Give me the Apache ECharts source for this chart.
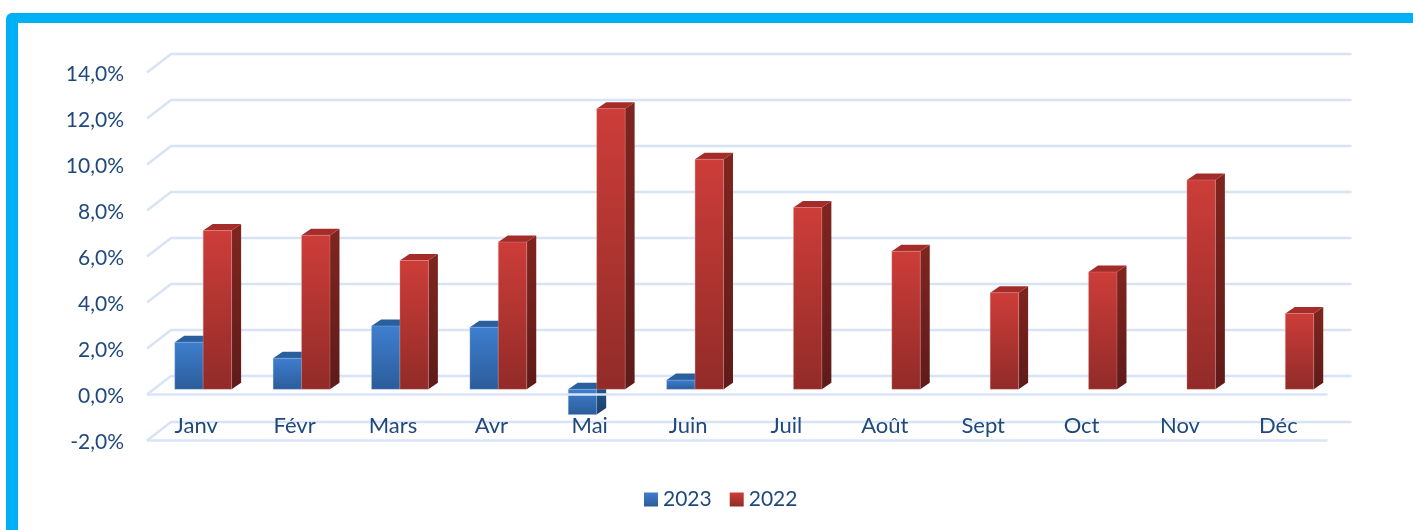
<!DOCTYPE html>
<html lang="fr">
<head>
    <meta charset="utf-8">
    <title>Évolution mensuelle 2023 / 2022</title>
    <style>
        html, body { margin: 0; padding: 0; background: #fff; }
        #chart { width: 1413px; height: 530px; }
    </style>
</head>
<body>
<div id="chart"></div>
<script src="https://cdn.jsdelivr.net/npm/echarts@6/dist/echarts.min.js" type="text/javascript" charset="utf-8"></script>
<script type="text/javascript">
    var months = ['Janv', 'Févr', 'Mars', 'Avr', 'Mai', 'Juin', 'Juil', 'Août', 'Sept', 'Oct', 'Nov', 'Déc'];
    var values2023 = [2.05, 1.35, 2.75, 2.7, -1.1, 0.4, null, null, null, null, null, null];
    var values2022 = [6.9, 6.7, 5.6, 6.4, 12.2, 10.0, 7.9, 6.0, 4.2, 5.1, 9.1, 3.3];
    var yTicks = [-2, 0, 2, 4, 6, 8, 10, 12, 14];
    var floorTicks = [-2, 0];

    var textColor = '#1f497d';
    var lineColor = '#d8e4f5';
    var fontName = 'Lato';

    // decalage de la perspective : fond du graphique, plan des barres, epaisseur des barres
    var wallX = 24, wallY = 18.5;
    var barShiftX = 7, barShiftY = 5.2;
    var depthX = 9.5, depthY = 6.5;
    var barRatio = 0.289;

    function gradient(top, bottom) {
        return new echarts.graphic.LinearGradient(0, 0, 0, 1, [
            { offset: 0, color: top },
            { offset: 1, color: bottom }
        ]);
    }

    var blueStyle = {
        front: gradient('#3e7fcf', '#2b5c9a'),
        side: gradient('#26598f', '#1c3f69'),
        top: '#2a5f9e',
        border: 'rgba(170,200,235,0.3)'
    };
    var redStyle = {
        front: gradient('#cd3d39', '#912b28'),
        side: gradient('#80251f', '#5e1b19'),
        top: '#a42c29',
        border: 'rgba(235,170,170,0.3)'
    };

    // une barre 3D : face avant, dessus, cote droit
    function barRenderer(style, leftOfCenter) {
        return function (params, api) {
            var val = api.value(1);
            if (isNaN(val)) {
                return;
            }
            var idx = api.value(0);
            var width = api.size([1, 0])[0] * barRatio;
            var pos = api.coord([idx, val]);
            var zero = api.coord([idx, 0]);
            var x0 = pos[0] + barShiftX - (leftOfCenter ? width : 0);
            var x1 = x0 + width;
            var yTop = Math.min(pos[1], zero[1]) - barShiftY;
            var yBot = Math.max(pos[1], zero[1]) - barShiftY;
            return {
                type: 'group',
                children: [
                    {
                        type: 'polygon',
                        shape: { points: [[x1, yTop], [x1 + depthX, yTop - depthY], [x1 + depthX, yBot - depthY], [x1, yBot]] },
                        style: { fill: style.side }
                    },
                    {
                        type: 'polygon',
                        shape: { points: [[x0, yTop], [x0 + depthX, yTop - depthY], [x1 + depthX, yTop - depthY], [x1, yTop]] },
                        style: { fill: style.top }
                    },
                    {
                        type: 'rect',
                        shape: { x: x0, y: yTop, width: width, height: yBot - yTop },
                        style: { fill: style.front, stroke: style.border, lineWidth: 1 }
                    }
                ]
            };
        };
    }

    // lignes du fond avec la petite diagonale a gauche
    function renderWallLine(params, api) {
        var y = api.coord([0, api.value(0)])[1];
        var left = params.coordSys.x;
        var right = left + params.coordSys.width;
        return {
            type: 'polyline',
            shape: { points: [[left, y], [left + wallX, y - wallY], [right + wallX, y - wallY]] },
            style: { fill: 'none', stroke: lineColor, lineWidth: 2.5 }
        };
    }

    // lignes avant du plancher (0 et -2)
    function renderFloorLine(params, api) {
        var y = api.coord([0, api.value(0)])[1];
        var left = params.coordSys.x;
        return {
            type: 'line',
            shape: { x1: left, y1: y, x2: left + params.coordSys.width, y2: y },
            style: { stroke: lineColor, lineWidth: 2.5 }
        };
    }

    function toPairs(values) {
        return values.map(function (v, i) {
            return [i, v === null ? NaN : v];
        });
    }

    var option = {
        animation: false,
        backgroundColor: '#fff',
        textStyle: { fontFamily: fontName },
        graphic: [
            {
                type: 'rect',
                silent: true,
                z: -10,
                shape: { x: 6, y: 13, width: 1440, height: 560, r: [6, 0, 0, 0] },
                style: { fill: '#00b0f5' }
            },
            {
                type: 'rect',
                silent: true,
                z: -9,
                shape: { x: 18, y: 23, width: 1440, height: 560 },
                style: { fill: '#fff' }
            }
        ],
        grid: { left: 147, top: 72.5, width: 1180.5, height: 368 },
        legend: {
            left: 639,
            top: 484,
            itemWidth: 14,
            itemHeight: 14,
            itemGap: 18,
            icon: 'rect',
            data: ['2023', '2022'],
            textStyle: { color: textColor, fontSize: 21, fontFamily: fontName }
        },
        xAxis: {
            type: 'category',
            data: months,
            z: 10,
            axisLine: { show: false },
            axisTick: { show: false },
            axisLabel: { interval: 0, inside: true, color: textColor, fontSize: 22, fontFamily: fontName, margin: 4 }
        },
        yAxis: {
            type: 'value',
            min: -2,
            max: 14,
            interval: 2,
            axisLine: { show: false },
            axisTick: { show: false },
            splitLine: { show: false },
            axisLabel: {
                color: textColor,
                fontSize: 21,
                fontFamily: fontName,
                margin: 23,
                verticalAlign: 'top',
                lineHeight: 4,   // descend le texte de 2px sous le niveau de la ligne
                formatter: function (v) {
                    return v.toFixed(1).replace('.', ',') + '%';
                }
            }
        },
        series: [
            {
                name: 'fond',
                type: 'custom',
                z: 1,
                silent: true,
                encode: { y: 0 },
                renderItem: renderWallLine,
                data: yTicks.map(function (v) { return [v]; })
            },
            {
                name: '2023',
                type: 'custom',
                z: 2,
                encode: { x: 0, y: 1 },
                itemStyle: { color: blueStyle.front },
                renderItem: barRenderer(blueStyle, true),
                data: toPairs(values2023)
            },
            {
                name: '2022',
                type: 'custom',
                z: 3,
                encode: { x: 0, y: 1 },
                itemStyle: { color: redStyle.front },
                renderItem: barRenderer(redStyle, false),
                data: toPairs(values2022)
            },
            {
                name: 'plancher',
                type: 'custom',
                z: 4,
                silent: true,
                encode: { y: 0 },
                renderItem: renderFloorLine,
                data: floorTicks.map(function (v) { return [v]; })
            }
        ]
    };

    var myChart = echarts.init(document.getElementById('chart'), null, { renderer: 'canvas' });
    myChart.setOption(option);
</script>
</body>
</html>
